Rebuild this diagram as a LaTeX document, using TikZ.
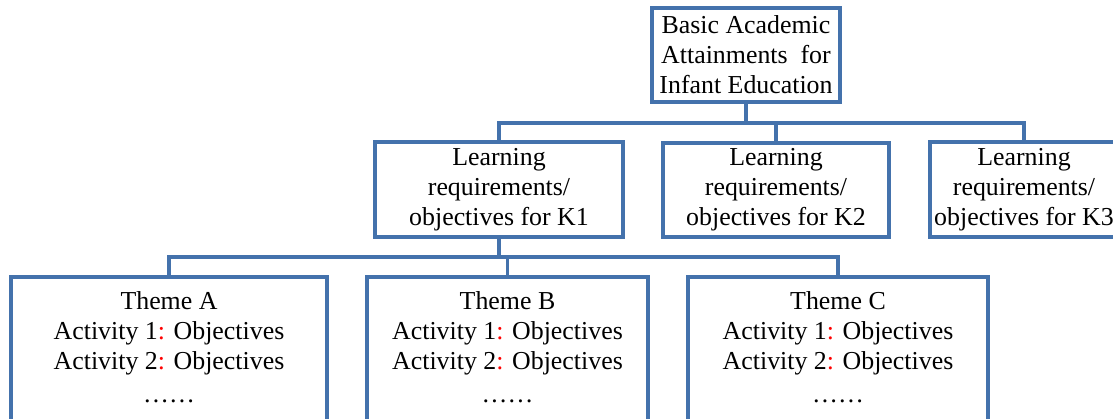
\documentclass[tikz,border=0pt]{standalone}
\usepackage{fontspec}
\setmainfont{Liberation Serif}
\definecolor{boxblue}{RGB}{68,114,172}
\definecolor{colonred}{RGB}{255,0,0}
\newcommand{\redcolon}{\textcolor{colonred}{:}}
\begin{document}
\begin{tikzpicture}[x=0.75pt,y=-0.75pt,
  txt/.style={font=\fontsize{19.4}{22.5}\selectfont},
  box/.style={txt, draw=boxblue, line width=2.7pt, fill=white, rectangle,
    inner sep=0pt, align=center},
  body/.style={txt, align=center, inner sep=0pt, anchor=north},
  link/.style={draw=boxblue, line width=2.7pt}]
\clip (0,0) rectangle (1113,418);
\fill[white] (0,0) rectangle (1113,418);

% bus levels
\coordinate (bus1) at (0,123);
\coordinate (bus2) at (0,257);

% top level
\node[box, minimum width=141pt, minimum height=70.5pt] (top) at (746,55)
  {Basic Academic\\Attainments~ for\\Infant Education};

% second level
\node[box, minimum width=186pt, minimum height=71.25pt] (k1) at (499,189.5)
  {Learning\\requirements/\\objectives for K1};
\node[box, minimum width=169.5pt, minimum height=70.5pt] (k2) at (776,190)
  {Learning\\requirements/\\objectives for K2};
\node[box, minimum width=141pt, minimum height=71.25pt] (k3) at (1024,189.5)
  {Learning\\requirements/\\objectives for K3};

% third level
\node[box, minimum width=237pt, minimum height=122.25pt] (ta) at (169,358.5) {};
\node[box, minimum width=210.75pt, minimum height=122.25pt] (tb) at (507.5,358.5) {};
\node[box, minimum width=225pt, minimum height=122.25pt] (tc) at (838,358.5) {};

\node[body] (tatext) at ([yshift=-12pt]ta.north)
  {Theme A\\Activity 1\redcolon{} Objectives\\Activity 2\redcolon{} Objectives\\[2pt]……};
\node[body] (tbtext) at ([yshift=-12pt]tb.north)
  {Theme B\\Activity 1\redcolon{} Objectives\\Activity 2\redcolon{} Objectives\\[2pt]……};
\node[body] (tctext) at ([yshift=-12pt]tc.north)
  {Theme C\\Activity 1\redcolon{} Objectives\\Activity 2\redcolon{} Objectives\\[2pt]……};

% connectors
\draw[link] (top.south) -- (top.south |- bus1);
\draw[link] (k1.north) -- (k1.north |- bus1) -- (k3.north |- bus1) -- (k3.north);
\draw[link] (k2.north) -- (k2.north |- bus1);
\draw[link] (k1.south) -- (k1.south |- bus2);
\draw[link] (ta.north) -- (ta.north |- bus2) -- (tc.north |- bus2) -- (tc.north);
\draw[link] (tb.north) -- (tb.north |- bus2);
\end{tikzpicture}
\end{document}
